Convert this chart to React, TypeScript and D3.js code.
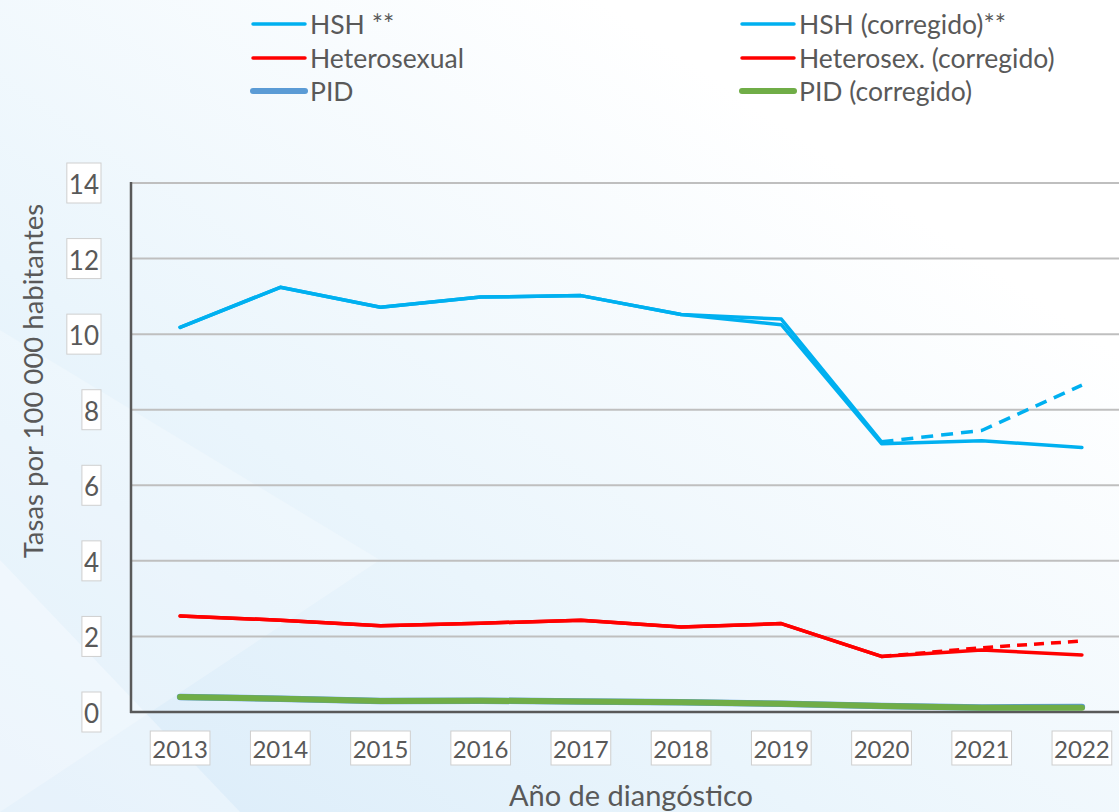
import React, { useEffect, useRef } from "react";
import * as d3 from "d3";

const years = ["2013", "2014", "2015", "2016", "2017", "2018", "2019", "2020", "2021", "2022"];
const hsh = [10.18, 11.24, 10.71, 10.98, 11.02, 10.52, 10.25, 7.1, 7.18, 7.0];
const hshCorr = [10.18, 11.24, 10.71, 10.98, 11.02, 10.52, 10.4, 7.15, 7.45, 8.65];
const hetero = [2.54, 2.43, 2.28, 2.35, 2.43, 2.25, 2.34, 1.47, 1.64, 1.51];
const heteroCorr = [2.54, 2.43, 2.28, 2.35, 2.43, 2.25, 2.34, 1.47, 1.7, 1.88];
const pid = [0.4, 0.35, 0.29, 0.3, 0.28, 0.26, 0.22, 0.16, 0.12, 0.13];
const pidCorr = [0.4, 0.35, 0.29, 0.3, 0.28, 0.26, 0.22, 0.16, 0.11, 0.11];
const yTicks = [0, 2, 4, 6, 8, 10, 12, 14];

const legendItems = [
  { label: "HSH **", color: "#00B0F0", w: 3.5, col: 0, row: 0 },
  { label: "Heterosexual", color: "#FF0000", w: 3.5, col: 0, row: 1 },
  { label: "PID", color: "#5B9BD5", w: 6, col: 0, row: 2 },
  { label: "HSH (corregido)**", color: "#00B0F0", w: 3.5, col: 1, row: 0 },
  { label: "Heterosex. (corregido)", color: "#FF0000", w: 3.5, col: 1, row: 1 },
  { label: "PID (corregido)", color: "#70AD47", w: 6, col: 1, row: 2 },
];

const W = 1119;
const H = 812;
const FONT = "Lato, 'Noto Sans', sans-serif";
const TXT = "#595959";

export default function App() {
  const ref = useRef<SVGSVGElement>(null);

  useEffect(() => {
    const svg = d3.select(ref.current);
    svg.selectAll("*").remove();

    const defs = svg.append("defs");
    const g1 = defs.append("linearGradient").attr("id", "bg").attr("x1", "0").attr("y1", "1").attr("x2", "0.75").attr("y2", "0.2");
    g1.append("stop").attr("offset", "0").attr("stop-color", "#d9ebf9");
    g1.append("stop").attr("offset", "0.45").attr("stop-color", "#eaf5fc");
    g1.append("stop").attr("offset", "1").attr("stop-color", "#ffffff");

    svg.append("rect").attr("width", W).attr("height", H).attr("fill", "url(#bg)");
    svg.append("polygon")
      .attr("points", `0,${H} 0,560 240,${H}`)
      .attr("fill", "#ffffff").attr("opacity", 0.35);
    svg.append("polygon")
      .attr("points", `0,330 380,560 0,${H}`)
      .attr("fill", "#ffffff").attr("opacity", 0.25);

    const x = d3.scaleBand().domain(years).range([130, 1132]).paddingInner(0).paddingOuter(0);
    const cx = (d: string) => (x(d) as number) + x.bandwidth() / 2;
    const y = d3.scaleLinear().domain([0, 14]).range([712, 183]);

    // gridlines
    svg.append("g").selectAll("line").data(yTicks.filter((t) => t > 0)).join("line")
      .attr("x1", 131).attr("x2", W)
      .attr("y1", (d) => y(d)).attr("y2", (d) => y(d))
      .attr("stroke", "#bfbfbf").attr("stroke-width", 2);

    // axes lines
    svg.append("line").attr("x1", 131).attr("x2", 131).attr("y1", y(14) - 1).attr("y2", y(0) + 1)
      .attr("stroke", "#595959").attr("stroke-width", 2.5);
    svg.append("line").attr("x1", 130).attr("x2", W).attr("y1", y(0)).attr("y2", y(0))
      .attr("stroke", "#595959").attr("stroke-width", 2.5);

    const lineGen = (arr: number[], from = 0, to = years.length - 1) =>
      d3.line<number>()
        .x((_, i) => cx(years[i + from]))
        .y((d) => y(d))(arr.slice(from, to + 1)) as string;

    const plot = svg.append("g").attr("fill", "none").attr("stroke-linejoin", "round").attr("stroke-linecap", "round");

    // PID
    plot.append("path").attr("d", lineGen(pid)).attr("stroke", "#5B9BD5").attr("stroke-width", 6.5);
    plot.append("path").attr("d", lineGen(pidCorr)).attr("stroke", "#70AD47").attr("stroke-width", 6);

    // Hetero
    plot.append("path").attr("d", lineGen(heteroCorr, 0, 7)).attr("stroke", "#FF0000").attr("stroke-width", 3.5);
    plot.append("path").attr("d", lineGen(heteroCorr, 7, 9)).attr("stroke", "#FF0000").attr("stroke-width", 3.5)
      .attr("stroke-dasharray", "10,7").attr("stroke-linecap", "butt");
    plot.append("path").attr("d", lineGen(hetero)).attr("stroke", "#FF0000").attr("stroke-width", 3.5);

    // HSH
    plot.append("path").attr("d", lineGen(hshCorr, 0, 7)).attr("stroke", "#00B0F0").attr("stroke-width", 3.5);
    plot.append("path").attr("d", lineGen(hshCorr, 7, 9)).attr("stroke", "#00B0F0").attr("stroke-width", 3.5)
      .attr("stroke-dasharray", "12,8").attr("stroke-linecap", "butt");
    plot.append("path").attr("d", lineGen(hsh)).attr("stroke", "#00B0F0").attr("stroke-width", 3.5);

    // y tick labels with boxes
    const yl = svg.append("g");
    yTicks.forEach((t) => {
      const gg = yl.append("g");
      const rect = gg.append("rect");
      const tx = gg.append("text").attr("x", 99).attr("y", y(t) + 1).attr("text-anchor", "end")
        .attr("dominant-baseline", "central").attr("font-family", FONT).attr("font-size", 26)
        .attr("fill", TXT).text(String(t));
      const bb = (tx.node() as SVGTextElement).getBBox();
      rect.attr("x", bb.x - 2).attr("y", y(t) - 20).attr("width", bb.width + 4).attr("height", 40)
        .attr("fill", "#ffffff").attr("stroke", "#cfcfcf").attr("stroke-width", 1);
    });

    // x tick labels with boxes
    const xl = svg.append("g");
    years.forEach((yr) => {
      const gg = xl.append("g");
      const rect = gg.append("rect");
      const tx = gg.append("text").attr("x", cx(yr)).attr("y", 748).attr("text-anchor", "middle")
        .attr("dominant-baseline", "central").attr("font-family", FONT).attr("font-size", 24)
        .attr("fill", TXT).text(yr);
      const bb = (tx.node() as SVGTextElement).getBBox();
      rect.attr("x", bb.x - 2).attr("y", 731).attr("width", bb.width + 4).attr("height", 34)
        .attr("fill", "#ffffff").attr("stroke", "#cfcfcf").attr("stroke-width", 1);
    });

    // axis titles
    svg.append("text").attr("transform", `translate(43,381) rotate(-90)`).attr("text-anchor", "middle")
      .attr("font-family", FONT).attr("font-size", 27.5).attr("fill", TXT)
      .text("Tasas por 100 000 habitantes");
    svg.append("text").attr("x", 631).attr("y", 806).attr("text-anchor", "middle")
      .attr("font-family", FONT).attr("font-size", 29).attr("fill", TXT)
      .text("Año de diangóstico");

    // legend
    const lg = svg.append("g");
    const colX = [251, 740];
    const rowY = [24, 58, 91];
    legendItems.forEach((it) => {
      const lx = colX[it.col];
      const ly = rowY[it.row];
      lg.append("line").attr("x1", lx + 2).attr("x2", lx + 54).attr("y1", ly).attr("y2", ly)
        .attr("stroke", it.color).attr("stroke-width", it.w).attr("stroke-linecap", "round");
      lg.append("text").attr("x", lx + 59).attr("y", ly + 9.5).attr("font-family", FONT)
        .attr("font-size", 26.5).attr("fill", TXT).text(it.label);
    });
  }, []);

  return (
    <svg ref={ref} width={W} height={H} style={{ position: "absolute", left: 0, top: 0, display: "block" }} />
  );
}
